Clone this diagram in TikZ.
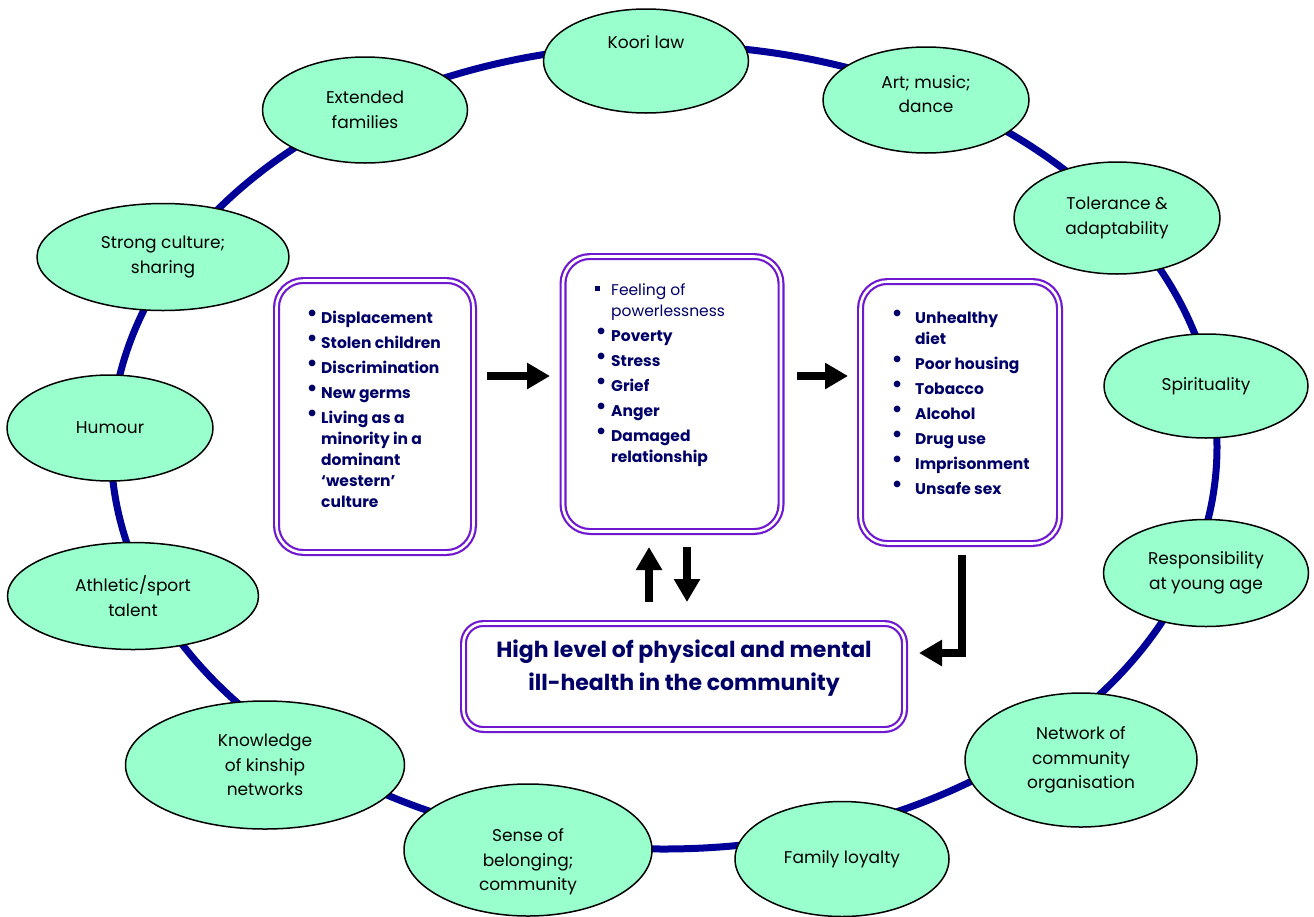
\documentclass[tikz,border=0pt]{standalone}
\usepackage{fontspec}
\setmainfont{Poppins}
\newfontfamily\dotfont{DejaVu Sans}
\usetikzlibrary{shapes.geometric,arrows.meta}
\definecolor{beadgreen}{HTML}{99FFCC}
\definecolor{ringblue}{HTML}{000099}
\definecolor{boxpurple}{RGB}{112,24,208}
\definecolor{listnavy}{HTML}{000066}
\newcommand{\blt}{\raisebox{2.5pt}{\dotfont\fontsize{19}{19}\selectfont •}}
\newcommand{\sqblt}{\raisebox{4pt}{\rule{5pt}{5pt}}}
\begin{document}
\begin{tikzpicture}[x=1pt,y=-1pt,line join=round,
  bead/.style={ellipse, draw=black, line width=1.5pt, fill=beadgreen, inner sep=0pt, align=center, font=\fontsize{17}{24.5}\selectfont},
  beadtext/.style={align=center, inner sep=0pt, font=\fontsize{17}{24.5}\selectfont},
  frame/.style={draw=boxpurple, double=white, line width=2.2pt, double distance=2.6pt, rounded corners=27pt, inner sep=0pt, outer sep=0pt},
  listtext/.style={text=listnavy, inner sep=0pt, anchor=base west, font=\fontsize{15.5}{21}\selectfont\bfseries},
  fatarrow/.style={line width=8pt, line join=miter, -{Triangle[length=23pt,width=25pt]}}]
\useasboundingbox (0,0) rectangle (1314,916);
% the ring behind the beads
\coordinate (hub) at (664,447);
\draw[ringblue, line width=7pt] (hub) ellipse [x radius=553pt, y radius=402pt];
% strengths round the ring
\node[bead, minimum width=205pt, minimum height=104pt] (koori) at (646,61) {};
\node[beadtext] (kooritext) at (646,42) {Koori law};
\node[bead, minimum width=206pt, minimum height=106pt] (art) at (926,100) {};
\node[beadtext] (arttext) at (926,94) {Art; music;\\ dance};
\node[bead, minimum width=205pt, minimum height=106pt] (extended) at (365,110) {Extended\\ families};
\node[bead, minimum width=206pt, minimum height=112pt] (tolerance) at (1117,218) {Tolerance \&\\ adaptability};
\node[bead, minimum width=252pt, minimum height=107pt] (strong) at (163,257) {Strong culture;\\ sharing};
\node[bead, minimum width=204pt, minimum height=104pt] (spirit) at (1206,386) {Spirituality};
\node[bead, minimum width=206pt, minimum height=106pt] (humour) at (110,428) {Humour};
\node[bead, minimum width=205pt, minimum height=107pt] (resp) at (1206,573) {Responsibility\\ at young age};
\node[bead, minimum width=251pt, minimum height=107pt] (athletic) at (133,596) {Athletic/sport\\ talent};
\node[bead, minimum width=232pt, minimum height=134pt] (network) at (1081,760) {Network of\\ community\\ organisation};
\node[bead, minimum width=279pt, minimum height=128pt] (kinship) at (265,765) {Knowledge\\ of kinship\\ networks};
\node[bead, minimum width=214pt, minimum height=115pt] (loyalty) at (842,859) {Family loyalty};
\node[bead, minimum width=248pt, minimum height=132pt] (belonging) at (528,850) {};
\node[beadtext] (belongingtext) at (528,862) {Sense of\\ belonging;\\ community};
% the four boxes
\node[frame, minimum width=197pt, minimum height=272pt] (history) at (375,416.5) {};
\node[frame, minimum width=218pt, minimum height=275pt] (feelings) at (672,394) {};
\node[frame, minimum width=199pt, minimum height=262pt] (risks) at (960,412.5) {};
\node[frame, rounded corners=20pt, minimum width=441pt, minimum height=106pt] (illhealth) at (684,676.5) {};
\node[listtext] (historytext) at (306,323) {\begin{tabular}[t]{@{}p{15pt}@{}l@{}}
\blt & Displacement\\[4pt]
\blt & Stolen children\\[4pt]
\blt & Discrimination\\[4pt]
\blt & New germs\\[4pt]
\blt & Living as a\\
 & minority in a\\
 & dominant\\
 & ‘western’\\
 & culture
\end{tabular}};
\node[listtext] (feelingstext) at (595,295) {\begin{tabular}[t]{@{}p{16pt}@{}l@{}}
\sqblt & \mdseries Feeling of\\
 & \mdseries powerlessness\\[4pt]
\blt & Poverty\\[4pt]
\blt & Stress\\[4pt]
\blt & Grief\\[4pt]
\blt & Anger\\[4pt]
\blt & Damaged\\
 & relationship
\end{tabular}};
\node[listtext] (riskstext) at (891,323) {\begin{tabular}[t]{@{}p{24pt}@{}l@{}}
\blt & Unhealthy\\
 & diet\\[4pt]
\blt & Poor housing\\[4pt]
\blt & Tobacco\\[4pt]
\blt & Alcohol\\[4pt]
\blt & Drug use\\[4pt]
\blt & Imprisonment\\[4pt]
\blt & Unsafe sex
\end{tabular}};
\node[text=listnavy, align=center, inner sep=0pt, font=\fontsize{22}{33}\selectfont\bfseries] (illtext) at ([yshift=8pt]illhealth.center) {High level of physical and mental\\ ill-health in the community};
% fat arrows between the boxes
\coordinate (row) at (0,376);
\coordinate (upx) at (649,0);
\coordinate (downx) at (687,0);
\coordinate (elbow) at (962,653);
\draw[fatarrow, shorten <=13.5pt, shorten >=13pt] (history.east |- row) -- (feelings.west |- row);
\draw[fatarrow, shorten <=16pt, shorten >=12.5pt] (feelings.east |- row) -- (risks.west |- row);
\draw[fatarrow, shorten <=21.5pt, shorten >=15.5pt] (illhealth.north -| upx) -- (feelings.south -| upx);
\draw[fatarrow, shorten <=15.5pt, shorten >=21.5pt] (feelings.south -| downx) -- (illhealth.north -| downx);
\draw[fatarrow, shorten <=11.5pt, shorten >=14.5pt] (risks.south -| elbow) |- (illhealth.east |- elbow);
\end{tikzpicture}
\end{document}
